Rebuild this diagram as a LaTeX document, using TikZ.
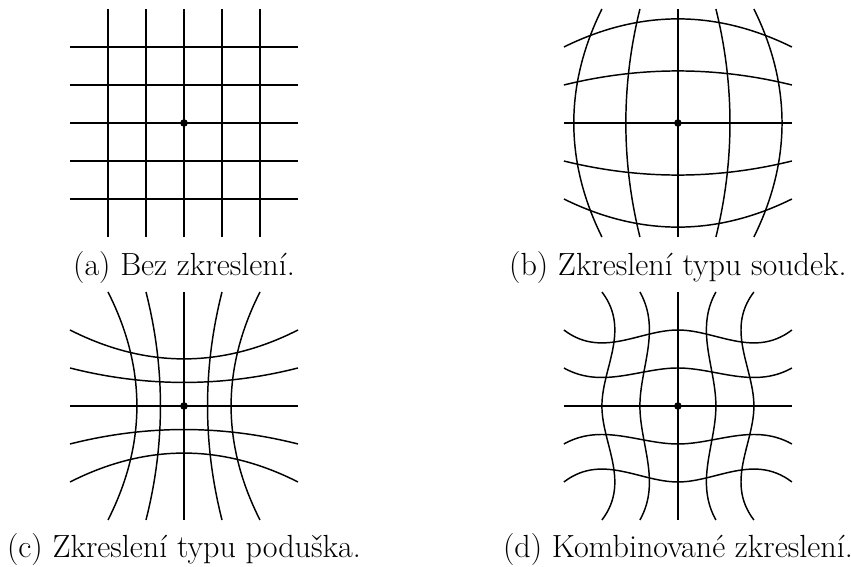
\documentclass[tikz,border=0pt]{standalone}
\usepackage{tikz}
\tikzset{
  mrizka/.style={line width=1.1pt},
  stred/.style={circle,fill,inner sep=0pt,minimum size=2mm},
  popis/.style={font=\fontsize{24}{29}\selectfont,anchor=base,inner sep=0pt},
}

\begin{document}
\begin{tikzpicture}
  \useasboundingbox (0,0) rectangle (22.395,14.921);
  \coordinate (sa) at (4.842,11.684);
  \coordinate (sb) at (17.84,11.684);
  \coordinate (sc) at (4.842,4.237);
  \coordinate (sd) at (17.84,4.237);
  \begin{scope}[shift={(sa)}]
    \foreach \c in {-2,...,2} {
      \draw[mrizka] (-3,\c) -- (3,\c);
      \draw[mrizka] (\c,-3) -- (\c,3);
    }
  \end{scope}
  \foreach \r in {0,90} {
    \begin{scope}[shift={(sb)},rotate=\r]
      \draw[mrizka] (-3,0) -- (3,0);
      \foreach \c in {-2,-1,1,2}
        \draw[mrizka] (-3,\c) .. controls (-1,{1.4933*\c}) and (1,{1.4933*\c}) .. (3,\c);
    \end{scope}
    \begin{scope}[shift={(sc)},rotate=\r]
      \draw[mrizka] (-3,0) -- (3,0);
      \foreach \c in {-2,-1,1,2}
        \draw[mrizka] (-3,\c) .. controls (-1,{0.493*\c}) and (1,{0.493*\c}) .. (3,\c);
    \end{scope}
    \begin{scope}[shift={(sd)},rotate=\r]
      \draw[mrizka] (-3,0) -- (3,0);
      \foreach \c/\a in {-2/-0.34,-1/-0.25,1/0.25,2/0.34}
        \draw[mrizka] plot[domain=-3:3,samples=61,smooth] (\x,{\c-\a*\x*\x*(3-abs(\x))/4});
    \end{scope}
  }
  \node[stred] (ca) at (sa) {};
  \node[stred] (cb) at (sb) {};
  \node[stred] (cc) at (sc) {};
  \node[stred] (cd) at (sd) {};
  \node[popis] (pa) at ([yshift=-4.02cm]sa) {(a) Bez zkreslení.};
  \node[popis] (pb) at ([yshift=-4.02cm]sb) {(b) Zkreslení typu soudek.};
  \node[popis] (pc) at ([yshift=-3.98cm]sc) {(c) Zkreslení typu poduška.};
  \node[popis] (pd) at ([yshift=-3.98cm]sd) {(d) Kombinované zkreslení.};
\end{tikzpicture}
\end{document}
